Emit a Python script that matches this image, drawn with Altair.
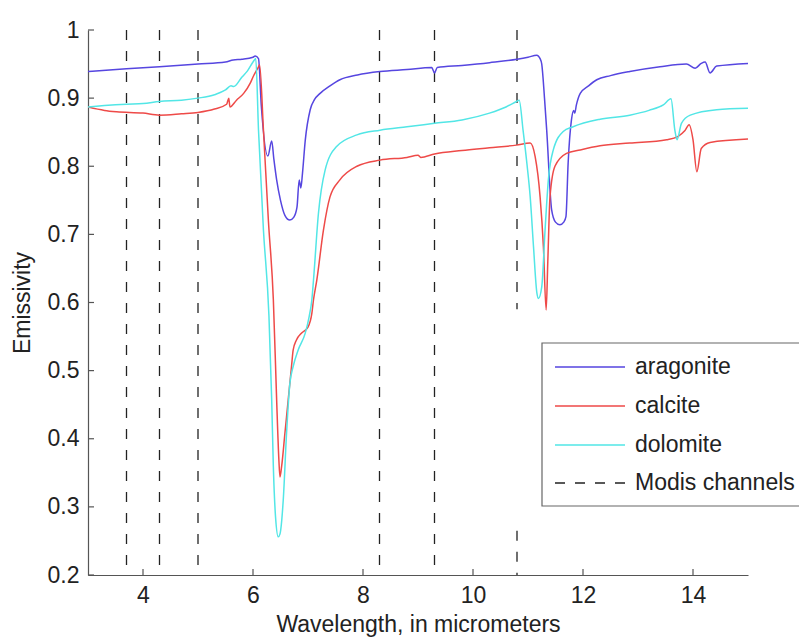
import altair as alt
import pandas as pd

# ---------------- data ----------------
wl_aragonite = [3.0, 3.7, 4.3, 5.0, 5.5, 5.64, 5.8, 6.0, 6.04, 6.1, 6.15, 6.27, 6.34, 6.38, 6.43,
                6.5, 6.58, 6.67, 6.74, 6.8, 6.84, 6.87, 6.9, 6.95, 7.04, 7.12, 7.22, 7.4, 7.58,
                7.9, 8.31, 8.8, 9.25, 9.3, 9.35, 9.8, 10.3, 10.8, 11.0, 11.16, 11.22, 11.25,
                11.3, 11.34, 11.43, 11.5, 11.58, 11.65, 11.69, 11.73, 11.79, 11.83, 11.85,
                11.88, 11.95, 12.1, 12.25, 12.5, 12.85, 13.4, 13.88, 14.04, 14.15, 14.22,
                14.31, 14.43, 15.0]
em_aragonite = [0.939, 0.943, 0.946, 0.950, 0.953, 0.956, 0.957, 0.960, 0.962, 0.958, 0.89, 0.815,
                0.837, 0.81, 0.78, 0.75, 0.728, 0.721, 0.725, 0.74, 0.78, 0.768, 0.79, 0.838,
                0.883, 0.898, 0.907, 0.918, 0.927, 0.934, 0.939, 0.942, 0.945, 0.937, 0.945,
                0.948, 0.952, 0.957, 0.960, 0.963, 0.958, 0.950, 0.90, 0.853, 0.736, 0.718,
                0.714, 0.718, 0.726, 0.805, 0.868, 0.882, 0.878, 0.89, 0.907, 0.918, 0.927,
                0.933, 0.939, 0.946, 0.950, 0.944, 0.951, 0.953, 0.937, 0.947, 0.951]

wl_calcite = [3.0, 3.3, 3.52, 4.0, 4.3, 4.7, 5.0, 5.3, 5.52, 5.56, 5.58, 5.7, 5.83, 5.95, 6.0,
              6.1, 6.12, 6.19, 6.28, 6.37, 6.43, 6.47, 6.49, 6.52, 6.58, 6.64, 6.70, 6.73,
              6.79, 6.88, 7.0, 7.07, 7.1, 7.16, 7.28, 7.4, 7.58, 7.89, 8.31, 8.8, 9.0, 9.05,
              9.3, 9.8, 10.3, 10.79, 11.04, 11.13, 11.22, 11.28, 11.33, 11.36, 11.4, 11.49,
              11.7, 11.95, 12.31, 12.85, 13.52, 13.73, 13.85, 13.93, 14.0, 14.07, 14.15,
              14.31, 15.0]
em_calcite = [0.887, 0.882, 0.880, 0.878, 0.875, 0.877, 0.879, 0.884, 0.891, 0.900, 0.887, 0.897,
              0.907, 0.922, 0.931, 0.946, 0.949, 0.853, 0.72, 0.604, 0.457, 0.37, 0.344, 0.359,
              0.408, 0.457, 0.506, 0.53, 0.545, 0.555, 0.564, 0.584, 0.604, 0.633, 0.706,
              0.755, 0.78, 0.80, 0.809, 0.813, 0.816, 0.813, 0.818, 0.823, 0.827, 0.831,
              0.834, 0.814, 0.755, 0.682, 0.589, 0.66, 0.755, 0.80, 0.819, 0.824, 0.83,
              0.834, 0.839, 0.844, 0.852, 0.861, 0.839, 0.792, 0.826, 0.835, 0.84]

wl_dolomite = [3.0, 3.3, 3.7, 4.0, 4.3, 4.7, 5.0, 5.3, 5.5, 5.6, 5.65, 5.8, 5.9, 6.0, 6.05, 6.1,
               6.19, 6.29, 6.34, 6.37, 6.41, 6.46, 6.49, 6.55, 6.61, 6.67, 6.73, 6.82, 6.95,
               7.02, 7.07, 7.1, 7.19, 7.31, 7.52, 7.89, 8.31, 8.8, 9.3, 9.8, 10.3, 10.6,
               10.79, 10.84, 10.91, 10.98, 11.04, 11.1, 11.16, 11.19, 11.25, 11.31, 11.37,
               11.46, 11.64, 11.82, 12.31, 12.85, 13.2, 13.46, 13.6, 13.67, 13.71, 13.79,
               13.95, 14.43, 15.0]
em_dolomite = [0.887, 0.889, 0.891, 0.892, 0.895, 0.897, 0.900, 0.905, 0.912, 0.918, 0.917, 0.931,
               0.940, 0.953, 0.958, 0.853, 0.706, 0.58, 0.457, 0.359, 0.285, 0.256, 0.26,
               0.31, 0.408, 0.481, 0.506, 0.53, 0.555, 0.579, 0.604, 0.633, 0.731, 0.794,
               0.829, 0.846, 0.853, 0.858, 0.863, 0.868, 0.878, 0.887, 0.895, 0.897, 0.853,
               0.804, 0.755, 0.682, 0.615, 0.606, 0.623, 0.706, 0.78, 0.824, 0.851, 0.858,
               0.869, 0.875, 0.882, 0.89, 0.899, 0.853, 0.839, 0.863, 0.875, 0.883, 0.885]

# MODIS channel positions (the 10.8 line is drawn in two visible pieces)
modis_x = [3.7, 4.3, 5.0, 8.3, 9.3, 10.8, 10.8]
modis_top = [1.0, 1.0, 1.0, 1.0, 1.0, 1.0, 0.265]
modis_bottom = [0.2, 0.2, 0.2, 0.2, 0.2, 0.59, 0.2]

series_names = ["aragonite", "calcite", "dolomite"]
series_colors = ["#5646e0", "#ee4a48", "#52e6e6"]
legend_labels = ["aragonite", "calcite", "dolomite", "Modis channels"]

x_ticks = [4, 6, 8, 10, 12, 14]
y_ticks = [0.2, 0.3, 0.4, 0.5, 0.6, 0.7, 0.8, 0.9, 1.0]

# ---------------- build ----------------
FONT = "Liberation Sans"
W, H = 660, 545

rows = []
for name, wl, em in [("aragonite", wl_aragonite, em_aragonite),
                     ("calcite", wl_calcite, em_calcite),
                     ("dolomite", wl_dolomite, em_dolomite)]:
    for a, b in zip(wl, em):
        rows.append({"wl": a, "em": b, "series": name})
df = pd.DataFrame(rows)

xscale = alt.Scale(domain=[3, 15], nice=False, zero=False)
yscale = alt.Scale(domain=[0.2, 1.0], nice=False, zero=False)

xaxis = alt.Axis(values=x_ticks, ticks=False, grid=False, domainColor="#555555",
                 domainWidth=1.2, labelFont=FONT, labelFontSize=23, labelColor="#222222",
                 labelPadding=9, title="Wavelength, in micrometers", titleFont=FONT,
                 titleFontSize=23, titleFontWeight="normal", titleColor="#222222",
                 titlePadding=6)
yaxis = alt.Axis(values=y_ticks, format=".1~f", ticks=False, grid=False,
                 domainColor="#555555", domainWidth=1.2, labelFont=FONT, labelFontSize=23,
                 labelColor="#222222", labelPadding=9, title="Emissivity", titleFont=FONT,
                 titleFontSize=23, titleFontWeight="normal", titleColor="#222222",
                 titlePadding=13)

X = alt.X("wl:Q", scale=xscale, axis=xaxis)
Y = alt.Y("em:Q", scale=yscale, axis=yaxis)

lines = alt.Chart(df).mark_line(strokeWidth=1.5, interpolate="monotone", clip=True).encode(
    x=X, y=Y,
    color=alt.Color("series:N", scale=alt.Scale(domain=series_names, range=series_colors),
                    legend=None),
)

modis_df = pd.DataFrame({"wl": modis_x, "em": modis_top, "em2": modis_bottom})
modis = alt.Chart(modis_df).mark_rule(strokeDash=[10, 11], color="#222222",
                                      strokeWidth=1.3).encode(x=X, y=Y, y2="em2:Q")

xt = alt.Chart(pd.DataFrame({"wl": x_ticks})).mark_rule(color="#555555", strokeWidth=1.2).encode(
    x=X, y=alt.value(H), y2=alt.value(H - 6))
yt = alt.Chart(pd.DataFrame({"em": y_ticks})).mark_rule(color="#555555", strokeWidth=1.2).encode(
    y=Y, x=alt.value(0), x2=alt.value(6))

# legend box (drawn by hand, matching MATLAB style)
one = pd.DataFrame({"k": [0]})
box = alt.Chart(one).mark_rect(fill="white", stroke="#666666", strokeWidth=1.2).encode(
    x=alt.value(454), x2=alt.value(724), y=alt.value(313), y2=alt.value(476))
leg_layers = [box]
row_y = [337, 376, 415, 453]
styles = series_colors + ["#222222"]
for i, lab in enumerate(legend_labels):
    dash = [10, 10] if i == 3 else [1, 0]
    leg_layers.append(alt.Chart(one).mark_rule(color=styles[i], strokeWidth=1.5,
                                               strokeDash=dash).encode(
        x=alt.value(467), x2=alt.value(537), y=alt.value(row_y[i])))
    leg_layers.append(alt.Chart(pd.DataFrame({"label": [lab]})).mark_text(
        align="left", baseline="middle", font=FONT, fontSize=23, color="#222222").encode(
        x=alt.value(547), y=alt.value(row_y[i]), text="label:N"))

chart = alt.layer(modis, lines, xt, yt, *leg_layers).properties(
    width=W, height=H,
    autosize=alt.AutoSizeParams(type="none"),
    padding={"left": 80, "top": 22, "right": 51, "bottom": 64},
).configure_view(stroke=None)

chart.save("out.html", embed_options={"renderer": "svg", "actions": False})
